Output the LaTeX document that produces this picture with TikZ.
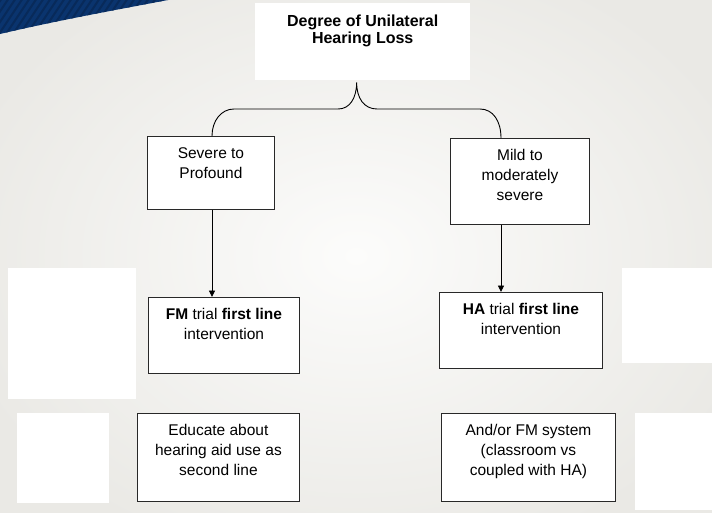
\documentclass[tikz,border=0pt]{standalone}
\usepackage{fontspec}
\setmainfont{Liberation Sans}
\usetikzlibrary{calc,arrows.meta}
\definecolor{bgout}{RGB}{234,233,229}
\definecolor{bgin}{RGB}{252,252,251}
\definecolor{swoosh}{RGB}{10,52,110}
\definecolor{swooshdark}{RGB}{8,42,90}
\definecolor{edge}{RGB}{40,40,40}
\newcommand{\bxt}[3]{\parbox[c][#2][t]{#1}{\centering\fontsize{15.5}{20}\selectfont\rule{0pt}{22pt}#3}}
\newcommand{\bxb}[3]{\parbox[c][#2][t]{#1}{\centering\fontsize{16}{17.5}\selectfont\bfseries\rule{0pt}{23pt}#3}}
\tikzset{
  box/.style={draw=edge, line width=0.9pt, fill=white, inner sep=0pt, anchor=north west},
  plainbox/.style={fill=white, inner sep=0pt, anchor=north west},
  conn/.style={draw=black, line width=0.9pt},
  arr/.style={conn, -{Triangle[length=6.5pt,width=6pt]}}
}
\begin{document}
\begin{tikzpicture}[x=1pt,y=-1pt]
\useasboundingbox (0,0) rectangle (712,512);
\shade[inner color=bgin, outer color=bgout] (-60,-60) rectangle (772,572);
% swoosh
\fill[swoosh] (0,0) -- (168,0) .. controls (110,11) and (55,21) .. (0,34) -- cycle;
\begin{scope}
  \clip (0,0) -- (168,0) .. controls (110,11) and (55,21) .. (0,34) -- cycle;
  \foreach \i in {-40,-33,...,200} \draw[swooshdark, line width=2pt] (\i,40) -- ++(30,-45);
\end{scope}
% plain white patches
\fill[white] (8,268) rectangle (136,399);
\fill[white] (17,413) rectangle (109,503);
\fill[white] (622,268) rectangle (712,363);
\fill[white] (635,413) rectangle (712,510);
% nodes
\node[plainbox] (top) at (255,3) {\bxb{215pt}{77pt}{Degree of Unilateral\\Hearing Loss}};
\node[box] (severe) at (147,136) {\bxt{127pt}{73pt}{Severe to\\Profound}};
\node[box] (mild) at (450,138) {\bxt{139pt}{86pt}{Mild to\\moderately\\severe}};
\node[box] (fm) at (148,297) {\bxt{151pt}{76pt}{\textbf{FM} trial \textbf{first line}\\intervention}};
\node[box] (ha) at (439,292) {\bxt{163pt}{76pt}{\textbf{HA} trial \textbf{first line}\\intervention}};
\node[box] (edu) at (137,413) {\bxt{162pt}{88pt}{Educate about\\hearing aid use as\\second line}};
\node[box] (andor) at (441,413) {\bxt{174pt}{88pt}{And/or FM system\\(classroom vs\\coupled with HA)}};
% connection points
\coordinate (tip) at ($(top.south)+(-6,2)$);
\coordinate (lj) at ($(severe.north west)+(65,0)$);
\coordinate (rj) at ($(mild.north west)+(51,0)$);
% brace
\draw[conn] (lj) .. controls (212,121) and (221,109) .. (234,109) -- (338,109)
  .. controls (350,109) and (356.5,98) .. (tip)
  .. controls (356.5,98) and (364,109) .. (377,109) -- (480,109)
  .. controls (493,109) and (501,121) .. (rj);
% arrows
\draw[arr] (lj |- severe.south) -- (lj |- fm.north);
\draw[arr] (rj |- mild.south) -- (rj |- ha.north);
\end{tikzpicture}
\end{document}
